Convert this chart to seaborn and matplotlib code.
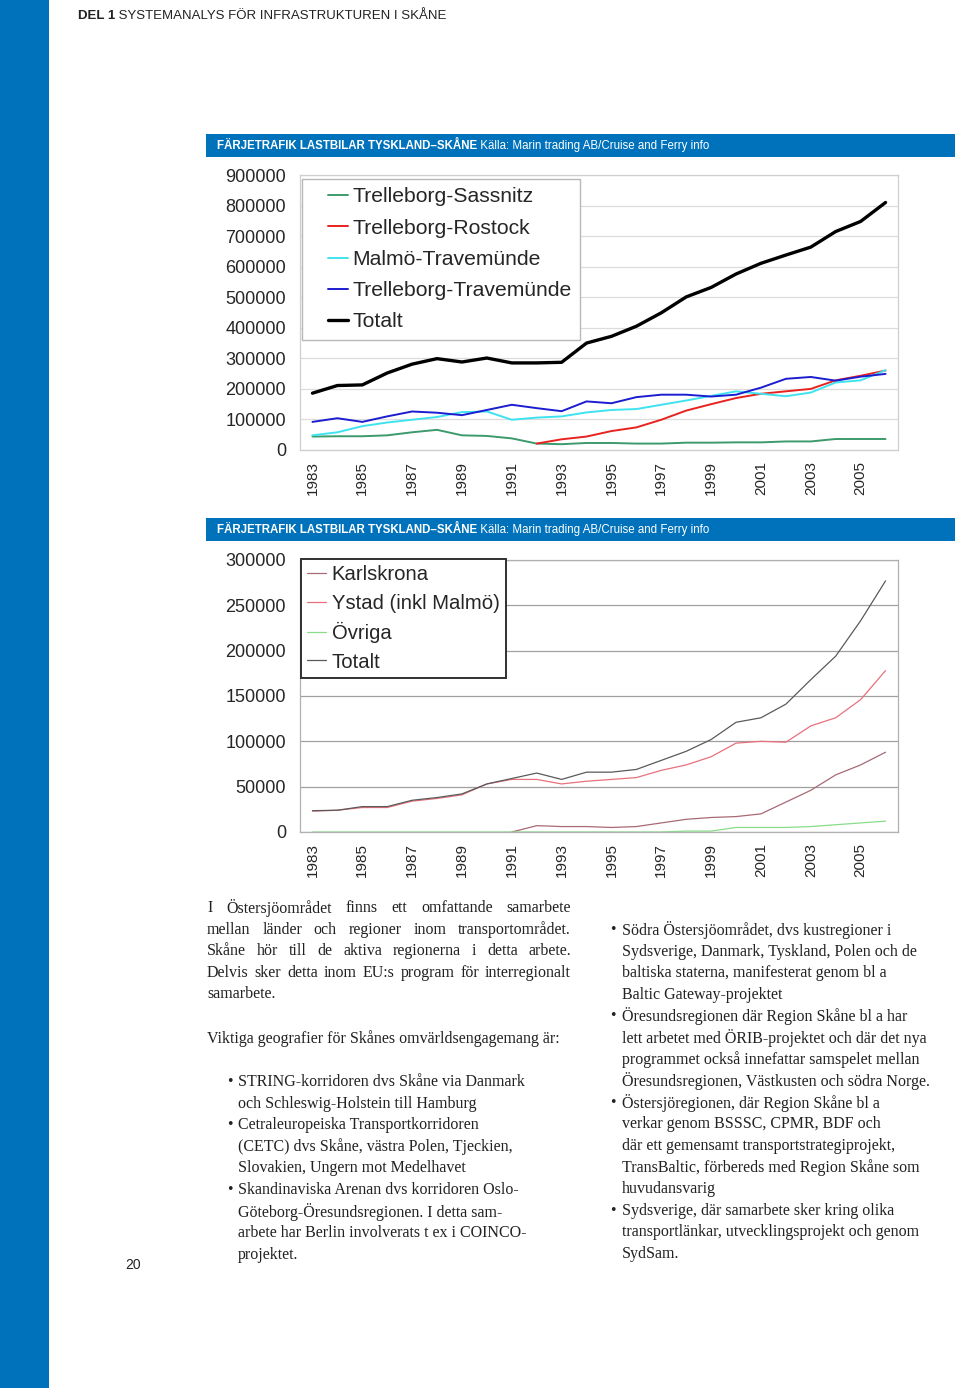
import matplotlib
matplotlib.use('Agg')
import matplotlib.pyplot as plt
from matplotlib.patches import Rectangle
from matplotlib.lines import Line2D
from matplotlib.legend_handler import HandlerLine2D
import seaborn as sns
import numpy as np

W, H = 960, 1388
nan = np.nan

years = list(range(1983, 2007))

# chart 1: ferry freight, thousands of trucks
sassnitz = [44, 45, 45, 48, 58, 66, 48, 46, 38, 21, 19, 23, 23, 21, 21, 24, 24, 25, 25, 28, 28, 36, 36, 36]
rostock = [nan] * 9 + [21, 35, 44, 62, 74, 99, 129, 150, 170, 184, 192, 200, 228, 243, 260]
malmo_trav = [48, 58, 78, 90, 99, 108, 124, 126, 99, 106, 110, 123, 131, 134, 148, 162, 177, 192, 184, 176, 188, 221, 228, 261]
trelleborg_trav = [92, 104, 92, 110, 126, 122, 114, 131, 148, 137, 127, 159, 153, 173, 181, 181, 175, 181, 204, 233, 239, 227, 240, 249]
totalt1 = [186, 211, 213, 252, 281, 299, 288, 301, 285, 285, 287, 350, 372, 405, 449, 501, 532, 576, 611, 638, 664, 715, 748, 810]

# chart 2
karlskrona = [nan] * 8 + [0, 7, 6, 6, 5, 6, 10, 14, 16, 17, 20, 33, 46, 63, 74, 88]
ystad = [23, 24, 27, 27, 34, 37, 41, 53, 58, 58, 53, 56, 58, 60, 68, 74, 83, 98, 100, 99, 117, 126, 146, 178]
ovriga = [0, 0, 0, 0, 0, 0, 0, 0, 0, 0, 0, 0, 0, 0, 0, 1, 1, 5, 5, 5, 6, 8, 10, 12]
totalt2 = [23.5, 24, 28, 28, 35, 38, 42, 53, 59, 65, 58, 66, 66, 69, 79, 89, 102, 121, 126, 141, 168, 194, 233, 277]

title_bold = 'FÄRJETRAFIK LASTBILAR TYSKLAND–SKÅNE'
title_rest = ' Källa: Marin trading AB/Cruise and Ferry info'

left_par = [
    ('I Östersjöområdet finns ett omfattande samarbete', True),
    ('mellan länder och regioner inom transportområdet.', True),
    ('Skåne hör till de aktiva regionerna i detta arbete.', True),
    ('Delvis sker detta inom EU:s program för interregionalt', True),
    ('samarbete.', False),
]
left_intro = 'Viktiga geografier för Skånes omvärldsengagemang är:'
left_bullets = [
    ['STRING-korridoren dvs Skåne via Danmark', 'och Schleswig-Holstein till Hamburg'],
    ['Cetraleuropeiska Transportkorridoren', '(CETC) dvs Skåne, västra Polen, Tjeckien,',
     'Slovakien, Ungern mot Medelhavet'],
    ['Skandinaviska Arenan dvs korridoren Oslo-', 'Göteborg-Öresundsregionen. I detta sam-',
     'arbete har Berlin involverats t ex i COINCO-', 'projektet.'],
]
right_bullets = [
    ['Södra Östersjöområdet, dvs kustregioner i', 'Sydsverige, Danmark, Tyskland, Polen och de',
     'baltiska staterna, manifesterat genom bl a', 'Baltic Gateway-projektet'],
    ['Öresundsregionen där Region Skåne bl a har', 'lett arbetet med ÖRIB-projektet och där det nya',
     'programmet också innefattar samspelet mellan', 'Öresundsregionen, Västkusten och södra Norge.'],
    ['Östersjöregionen, där Region Skåne bl a', 'verkar genom BSSSC, CPMR, BDF och',
     'där ett gemensamt transportstrategiprojekt,', 'TransBaltic, förbereds med Region Skåne som',
     'huvudansvarig'],
    ['Sydsverige, där samarbete sker kring olika', 'transportlänkar, utvecklingsprojekt och genom',
     'SydSam.'],
]

sns.set_style('white')
plt.rcParams['font.family'] = ['Liberation Sans', 'DejaVu Sans']

BLUE = '#0072bb'
fig = plt.figure(figsize=(9.6, 13.88), dpi=100)
renderer = fig.canvas.get_renderer()


def fx(x):
    return x / W


def fy(y):
    return 1 - y / H


def px_rect(x0, y0, x1, y1):
    return [x0 / W, 1 - y1 / H, (x1 - x0) / W, (y1 - y0) / H]


def text_width(t):
    return t.get_window_extent(renderer).width


# page furniture
fig.add_artist(Rectangle((0, 0), fx(49), 1, transform=fig.transFigure, color=BLUE, lw=0))
t = fig.text(fx(78), fy(16), 'DEL 1', fontsize=9.5, fontweight='bold', color='#222222', va='center')
fig.text(fx(78) + text_width(t) / W, fy(16), ' SYSTEMANALYS FÖR INFRASTRUKTUREN I SKÅNE',
         fontsize=9.5, color='#222222', va='center')
fig.text(fx(133), fy(1265), '20', fontsize=10, color='#222222', ha='center', va='center')


def title_bar(y0, y1):
    fig.add_artist(Rectangle((fx(206), fy(y1)), fx(955) - fx(206), fy(y0) - fy(y1),
                             transform=fig.transFigure, color=BLUE, lw=0))
    yc = fy((y0 + y1) / 2)
    tb = fig.text(fx(217), yc, title_bold, fontsize=8.3, fontweight='bold', color='white', va='center')
    fig.text(fx(217) + text_width(tb) / W, yc, title_rest, fontsize=8.3, color='white', va='center')


title_bar(134, 157)
title_bar(518, 541)


def chart(rect, series, ymax, ystep, grid_color, spine_color, leg_xy, leg_kw):
    ax = fig.add_axes(px_rect(*rect))
    for name, vals, color, lw in series:
        sns.lineplot(x=years, y=np.array(vals, dtype=float) * 1000, ax=ax, color=color,
                     linewidth=lw, label=name)
    ax.set_xlim(1982.5, 2006.5)
    ax.set_ylim(0, ymax)
    yt = np.arange(0, ymax + 1, ystep)
    ax.set_yticks(yt)
    ax.set_yticklabels([str(int(v)) for v in yt], fontsize=13)
    ax.set_xticks(years[::2])
    ax.set_xticklabels([str(y) for y in years[::2]], rotation=90, fontsize=11)
    ax.set_xticks(np.arange(1982.5, 2007, 1), minor=True)
    ax.tick_params(axis='x', which='major', length=0, pad=8)
    ax.tick_params(axis='x', which='minor', length=5, direction='out', color=spine_color, width=0.8)
    ax.tick_params(axis='y', length=4, direction='out', color=spine_color, pad=6)
    ax.grid(True, axis='y', color=grid_color, lw=0.9)
    ax.set_axisbelow(True)
    for s in ax.spines.values():
        s.set_color(spine_color)
        s.set_linewidth(0.9)
    ax.set_xlabel('')
    ax.set_ylabel('')
    ax.legend(loc='upper left', bbox_to_anchor=leg_xy, borderaxespad=0,
              fancybox=False, framealpha=1, **leg_kw)
    return ax


# chart 1
x0, y0, x1, y1 = 300, 175, 898, 450
ax1 = chart((x0, y0, x1, y1),
            [('Trelleborg-Sassnitz', sassnitz, '#3c9a6c', 1.4),
             ('Trelleborg-Rostock', rostock, '#e8221e', 1.4),
             ('Malmö-Travemünde', malmo_trav, '#3fe3ef', 1.4),
             ('Trelleborg-Travemünde', trelleborg_trav, '#1c1cd0', 1.4),
             ('Totalt', totalt1, '#000000', 2.4)],
            900000, 100000, '#dcdcdc', '#cfcfcf',
            ((302 - x0) / (x1 - x0), 1 - (179 - y0) / (y1 - y0)),
            dict(fontsize=15.2, edgecolor='#b8b8b8', borderpad=0.4, labelspacing=0.58,
                 handlelength=1.8, handletextpad=0.2,
                 handler_map={Line2D: HandlerLine2D(xpad=0.85)}))
ax1.get_legend().get_frame().set_linewidth(1.0)

# chart 2
x0, y0, x1, y1 = 300, 560, 898, 832
ax2 = chart((x0, y0, x1, y1),
            [('Karlskrona', karlskrona, '#a86a74', 0.9),
             ('Ystad (inkl Malmö)', ystad, '#e8707c', 0.9),
             ('Övriga', ovriga, '#88dd88', 0.9),
             ('Totalt', totalt2, '#5a5a5a', 0.9)],
            300000, 50000, '#a0a0a0', '#b0b0b0',
            ((301 - x0) / (x1 - x0), 1 - (559 - y0) / (y1 - y0)),
            dict(fontsize=14.6, edgecolor='#303030', borderpad=0.32, labelspacing=0.46,
                 handlelength=0.9, handletextpad=0.3))
ax2.get_legend().get_frame().set_linewidth(1.4)

# body text
SERIF = ['Liberation Serif', 'DejaVu Serif']
FS = 11.5
COL = '#222222'


def line(x, y, s, width=None):
    if width is None:
        fig.text(fx(x), fy(y), s, fontsize=FS, family=SERIF, color=COL, va='center')
        return
    words = s.split()
    objs = [fig.text(0, fy(y), w, fontsize=FS, family=SERIF, color=COL, va='center') for w in words]
    widths = [text_width(o) for o in objs]
    gap = (width - sum(widths)) / (len(words) - 1)
    cx = x
    for o, w in zip(objs, widths):
        o.set_x(fx(cx))
        cx += w + gap


LH = 21.6
y = 908
for s, just in left_par:
    line(207, y, s, 364 if just else None)
    y += LH
line(207, 1039, left_intro)


def bullets(xb, xt, ystart, items):
    y = ystart
    for item in items:
        fig.text(fx(xb), fy(y), '•', fontsize=FS, family=SERIF, color=COL, va='center')
        for s in item:
            line(xt, y, s)
            y += LH


bullets(227, 238, 1082, left_bullets)
bullets(610, 622, 930, right_bullets)

fig.savefig('out.png', dpi=100)
